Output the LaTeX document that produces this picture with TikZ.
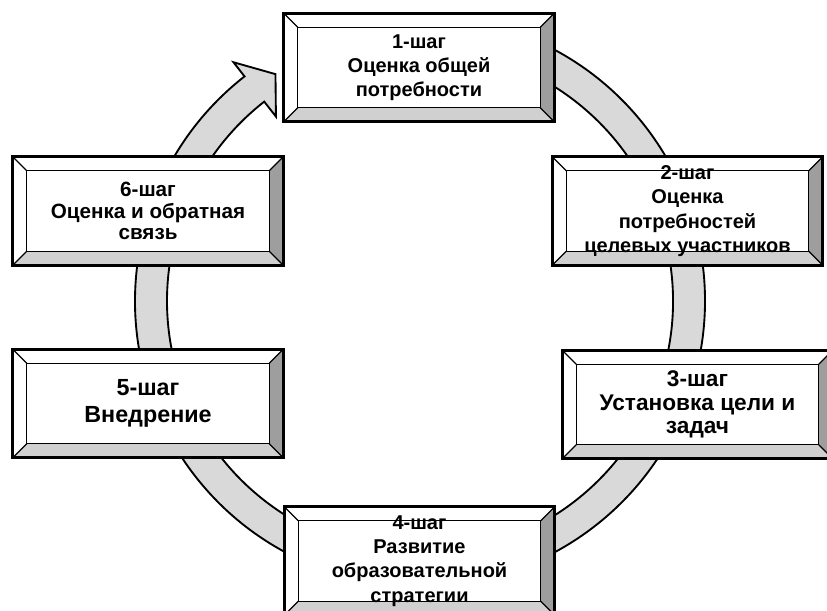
\documentclass[tikz,border=0pt]{standalone}
\usepackage{fontspec}
\setmainfont{Liberation Sans}
\usetikzlibrary{calc}
\pgfdeclarelayer{ringlayer}
\pgfdeclarelayer{bevlayer}
\pgfdeclarelayer{toplayer}
\pgfsetlayers{ringlayer,bevlayer,main,toplayer}
\definecolor{ringgray}{RGB}{217,217,217}
\definecolor{bevlight}{RGB}{208,208,208}
\definecolor{bevdark}{RGB}{158,158,158}
\tikzset{
  stepbox/.style={minimum width=202.5pt, minimum height=81pt, inner sep=0pt, align=center,
    font=\bfseries\fontsize{15}{18.2}\selectfont},
  ringstyle/.style={fill=ringgray, draw=black, line width=1.4pt, line join=miter},
  bevline/.style={draw=black, line width=1pt},
  outerline/.style={draw=black, line width=2.1pt},
}
\newcommand\bevelbox[1]{%
  \coordinate (#1-a) at ($(#1.north west)+(10.5pt,-10.5pt)$);
  \coordinate (#1-b) at ($(#1.north east)+(-10.5pt,-10.5pt)$);
  \coordinate (#1-c) at ($(#1.south east)+(-10.5pt,10.5pt)$);
  \coordinate (#1-d) at ($(#1.south west)+(10.5pt,10.5pt)$);
  \begin{pgfonlayer}{bevlayer}
    \fill[white] (#1.north west) -- (#1.north east) -- (#1-b) -- (#1-a) -- cycle;
    \fill[white] (#1.north west) -- (#1-a) -- (#1-d) -- (#1.south west) -- cycle;
    \fill[bevlight] (#1.south west) -- (#1-d) -- (#1-c) -- (#1.south east) -- cycle;
    \fill[bevdark] (#1.north east) -- (#1.south east) -- (#1-c) -- (#1-b) -- cycle;
    \fill[white] (#1-a) rectangle (#1-c);
    \draw[bevline] (#1.north west) -- (#1-a) (#1.north east) -- (#1-b)
      (#1.south east) -- (#1-c) (#1.south west) -- (#1-d);
    \draw[outerline] (#1.north west) rectangle (#1.south east);
  \end{pgfonlayer}
  \begin{pgfonlayer}{toplayer}
    \draw[bevline] (#1-a) rectangle (#1-c);
  \end{pgfonlayer}
}
\begin{document}
\begin{tikzpicture}[x=0.75pt,y=-0.75pt]
\useasboundingbox (0,0) rectangle (827,610);
\begin{pgfonlayer}{ringlayer}
  \fill[white] (0,0) rectangle (827,610);
  \begin{scope}[shift={(420,301)}, x=0.75pt, y=0.75pt]
    \draw[ringstyle] (128:285) arc[start angle=128, end angle=460, radius=285]
      -- (100:253) arc[start angle=460, end angle=128, radius=253]
      -- (128:234) -- (122.5:269) -- (128:303) -- cycle;
  \end{scope}
\end{pgfonlayer}
\node[stepbox] (s1) at (419,67.5) {1-шаг\\Оценка общей\\потребности};
\node[stepbox] (s2) at (687.5,211) {2-шаг\\Оценка\\потребностей\\целевых участников};
\node[stepbox, font=\bfseries\fontsize{17}{17.5}\selectfont] (s3) at (697.5,404.5) {3-шаг\\Установка цели и\\задач};
\node[stepbox] (s4) at (419.5,561) {4-шаг\\Развитие\\образовательной\\стратегии};
\node[stepbox, font=\bfseries\fontsize{17.5}{20.3}\selectfont] (s5) at (148,403.5) {5-шаг\\Внедрение};
\node[stepbox, font=\bfseries\fontsize{15.5}{16}\selectfont] (s6) at (148,211) {6-шаг\\Оценка и обратная\\связь};
\bevelbox{s1}
\bevelbox{s2}
\bevelbox{s3}
\bevelbox{s4}
\bevelbox{s5}
\bevelbox{s6}
\end{tikzpicture}
\end{document}
